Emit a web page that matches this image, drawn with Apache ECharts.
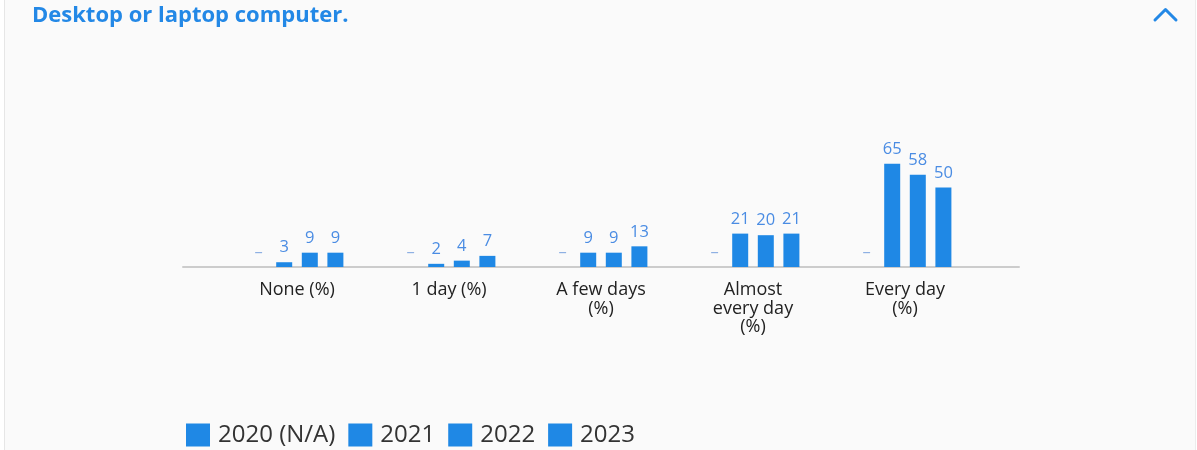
<!DOCTYPE html>
<html>
<head>
<meta charset="utf-8">
<script src="https://cdn.jsdelivr.net/npm/echarts@6/dist/echarts.min.js"></script>
<style>
  html, body { margin: 0; padding: 0; background: #ffffff; }
  #wrap { position: absolute; left: 4px; top: 0; width: 1190px; height: 450px; background: #fafafa; border-left: 1px solid #e6e6e6; border-right: 1px solid #ececec; }
  #chart { position: absolute; left: -5px; top: 0; width: 1197px; height: 450px; }
</style>
</head>
<body>
<div id="wrap"><div id="chart"></div></div>
<script>
const titleText = 'Desktop or laptop computer.';
const categories = ['None (%)', '1 day (%)', 'A few days\n(%)', 'Almost\nevery day\n(%)', 'Every day\n(%)'];
const seriesNames = ['2020 (N/A)', '2021', '2022', '2023'];
const values2020 = [0, 0, 0, 0, 0];
const values2021 = [3, 2, 9, 21, 65];
const values2022 = [9, 4, 9, 20, 58];
const values2023 = [9, 7, 13, 21, 50];

const barColor = '#1f88e5';
const labelColor = '#4a8ce3';
const font = '"Open Sans", "DejaVu Sans", sans-serif';

const chart = echarts.init(document.getElementById('chart'), null, { renderer: 'canvas' });

function barSeries(name, data, isNA) {
  return {
    name: name,
    type: 'bar',
    xAxisIndex: 0,
    yAxisIndex: 0,
    data: data,
    barWidth: 16,
    barGap: '60%',
    itemStyle: { color: barColor },
    label: {
      show: true,
      position: 'top',
      distance: 6,
      fontFamily: font,
      fontSize: 16.5,
      color: isNA ? '#8eb0e3' : labelColor,
      formatter: isNA ? () => '\u2013' : '{c}'
    },
    silent: true
  };
}

const option = {
  animation: false,
  backgroundColor: 'transparent',
  textStyle: { fontFamily: font },
  title: {
    text: titleText,
    left: 27,
    top: 0,
    textStyle: { fontFamily: font, fontSize: 22, fontWeight: 'bold', color: '#2388e6' }
  },
  legend: {
    left: 181,
    top: 418,
    icon: 'rect',
    itemWidth: 24,
    itemHeight: 23,
    itemGap: 13,
    data: seriesNames,
    textStyle: { fontFamily: font, fontSize: 24, color: '#333333', padding: [0, 0, 0, 3] },
    selectedMode: false
  },
  grid: [
    { left: 221, right: 216, top: 108, bottom: 183 },
    { left: 183, right: 178, top: 108, bottom: 183 }
  ],
  xAxis: [
    {
      type: 'category',
      gridIndex: 0,
      data: categories,
      axisLine: { show: false },
      axisTick: { show: false },
      axisLabel: { margin: 14, fontFamily: font, fontSize: 18, lineHeight: 18.5, color: '#222222', interval: 0 }
    },
    {
      type: 'value',
      gridIndex: 1,
      min: 0, max: 1,
      axisLine: { show: true, lineStyle: { color: '#cccccc', width: 2 } },
      axisTick: { show: false },
      axisLabel: { show: false },
      splitLine: { show: false }
    }
  ],
  yAxis: [
    { type: 'value', gridIndex: 0, min: 0, max: 100, show: false },
    { type: 'value', gridIndex: 1, min: 0, max: 100, show: false }
  ],
  series: [
    barSeries(seriesNames[0], values2020, true),
    barSeries(seriesNames[1], values2021, false),
    barSeries(seriesNames[2], values2022, false),
    barSeries(seriesNames[3], values2023, false)
  ],
  graphic: [
    {
      type: 'polyline',
      shape: { points: [[1155, 20], [1165.5, 9.5], [1176, 20]] },
      style: { stroke: '#2388e6', lineWidth: 3, fill: null, lineCap: 'round', lineJoin: 'round' },
      silent: true
    }
  ]
};
chart.setOption(option);
</script>
</body>
</html>
